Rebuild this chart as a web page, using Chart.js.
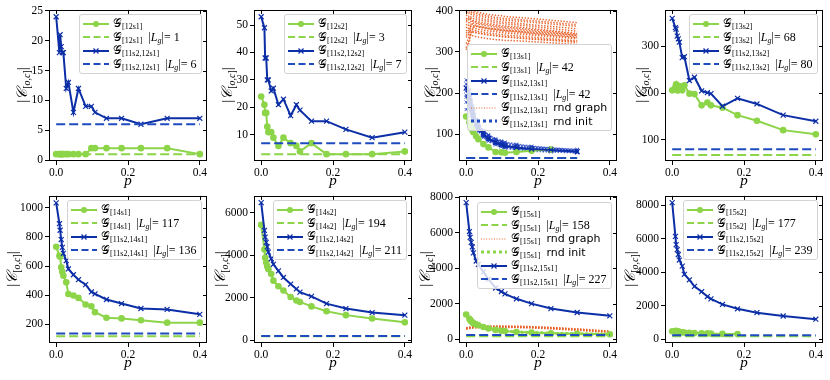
<!DOCTYPE html>
<html>
<head>
<meta charset="utf-8">
<script src="https://cdn.jsdelivr.net/npm/chart.js@4.4.1/dist/chart.umd.min.js"></script>
<style>
  body { margin: 0; width: 830px; height: 380px; background: #fff; position: relative; overflow: hidden; font-family: "Liberation Serif", "DejaVu Serif", serif; }
  canvas { position: absolute; }
  .ytitle { position: absolute; transform: translate(-50%, -50%) rotate(-90deg); font-size: 15px; white-space: nowrap; }
  .ytitle sub { font-size: 10px; vertical-align: -3px; }
  .legend { position: absolute; background: rgba(255,255,255,0.8); border: 1px solid #d3d3d3; border-radius: 3px; padding: 2px 4px 2px 3px; font-size: 12px; }
  .legend .row { display: flex; align-items: center; white-space: nowrap; height: 13.5px; }
  .legend svg { margin-right: 4px; flex: none; }
  sub { font-size: 8px; line-height: 0; vertical-align: -2px; }
  .sans { font-family: "DejaVu Sans", sans-serif; font-size: 11px; margin-left: 6px; }
</style>
</head>
<body>
<script>
// p values shared by all panels
const P = [0, 0.009, 0.011, 0.014, 0.017, 0.02, 0.028, 0.034, 0.048, 0.062, 0.082, 0.098, 0.108, 0.14, 0.182, 0.236, 0.309, 0.4];
const xTicks = [0, 0.2, 0.4];

// 12s1
const g12s1 = [1, 1, 1, 1, 1, 1, 1, 1, 1, 1, 1, 2, 2, 2, 2, 2, 2, 1];
const b12s1 = [24, 18, 21, 19, 18, 18, 12, 13, 8, 12, 9, 9, 8, 7, 7, 6, 7, 7];
const yTicks12s1 = [0, 5, 10, 15, 20, 25];

// 12s2
const g12s2 = [24, 21, 18, 18, 13, 11, 11, 9, 6, 9, 7, 6, 4, 7, 3, 3, 3, 4];
const b12s2 = [53, 49, 38, 38, 30, 30, 26, 27, 21, 23, 17, 21, 19, 15, 15, 12, 9, 11];
const yTicks12s2 = [10, 20, 30, 40, 50];

// 13s1 (runs stop at p = 0.309)
const g13s1 = [143, 129, 125, 115, 110, 105, 95, 88, 76, 68, 57, 56, 55, 57, 60, 63];
const b13s1 = [212, 190, 180, 165, 155, 145, 125, 117, 100, 90, 80, 75, 72, 68, 64, 62, 58];
const rndGraph13s1 = [
  [395, 400, 398, 396, 394, 392, 390, 388, 385, 383, 380, 378, 377, 375, 372, 368, 362],
  [380, 388, 386, 384, 383, 381, 380, 378, 376, 374, 371, 369, 368, 366, 362, 357, 350],
  [365, 372, 375, 373, 371, 370, 369, 367, 365, 363, 360, 358, 357, 355, 351, 347, 340],
  [350, 360, 362, 361, 360, 358, 356, 355, 353, 351, 349, 347, 346, 344, 341, 337, 332],
  [340, 348, 352, 350, 349, 347, 346, 345, 343, 341, 339, 337, 336, 334, 331, 328, 323],
  [320, 338, 342, 341, 340, 338, 337, 336, 334, 332, 330, 329, 328, 327, 325, 322, 318],
  [305, 325, 335, 345, 355, 360, 362, 362, 360, 358, 356, 354, 353, 351, 348, 345, 340],
  [400, 402, 404, 403, 401, 400, 398, 396, 393, 391, 389, 388, 386, 384, 381, 377, 371],
  [372, 380, 382, 380, 378, 376, 375, 373, 371, 369, 366, 364, 363, 361, 357, 352, 345],
  [335, 345, 357, 366, 368, 366, 364, 362, 360, 357, 355, 353, 352, 350, 346, 342, 336],
  [388, 395, 393, 391, 389, 387, 385, 383, 380, 378, 375, 373, 372, 370, 366, 362, 356],
  [358, 366, 368, 367, 365, 363, 362, 360, 358, 356, 353, 351, 350, 348, 344, 340, 334],
  [345, 355, 358, 356, 354, 353, 351, 350, 348, 346, 344, 342, 341, 339, 336, 332, 327],
  [310, 330, 340, 348, 350, 349, 348, 346, 344, 342, 340, 338, 337, 335, 332, 329, 325],
  [398, 404, 402, 400, 398, 396, 394, 392, 389, 387, 384, 382, 381, 379, 376, 372, 366],
  [376, 384, 379, 377, 375, 374, 372, 370, 368, 366, 363, 361, 360, 358, 354, 350, 343]
];
const rndInit13s1 = [
  [232, 205, 190, 175, 163, 153, 135, 124, 108, 97, 87, 82, 79, 74, 70, 66, 62],
  [195, 180, 172, 160, 150, 140, 122, 114, 97, 88, 78, 73, 70, 66, 62, 60, 57],
  [222, 208, 194, 180, 167, 156, 137, 126, 109, 99, 89, 84, 81, 76, 71, 67, 63],
  [178, 168, 158, 148, 140, 132, 115, 107, 92, 83, 74, 69, 66, 62, 59, 57, 55],
  [205, 185, 178, 168, 158, 147, 128, 118, 101, 92, 82, 77, 74, 69, 66, 63, 59],
  [160, 165, 156, 146, 138, 130, 117, 109, 95, 86, 77, 73, 70, 66, 63, 60, 56],
  [215, 198, 186, 176, 165, 154, 134, 123, 105, 95, 85, 80, 77, 72, 68, 65, 61],
  [190, 178, 168, 156, 147, 138, 121, 113, 96, 87, 77, 72, 69, 65, 62, 60, 57]
];
const yTicks13s1 = [100, 200, 300, 400];

// 13s2
const g13s2 = [206, 213, 219, 206, 206, 215, 206, 217, 199, 198, 174, 180, 174, 169, 153, 141, 121, 112];
const b13s2 = [360, 340, 337, 322, 316, 309, 276, 278, 227, 234, 205, 201, 199, 172, 189, 177, 153, 140];
const yTicks13s2 = [100, 200, 300];

// 14s1
const g14s1 = [732, 671, 664, 592, 560, 533, 488, 408, 397, 381, 336, 324, 283, 245, 240, 227, 211, 211];
const b14s1 = [1034, 891, 846, 782, 728, 687, 637, 580, 540, 506, 472, 422, 408, 370, 342, 308, 302, 268];
const yTicks14s1 = [200, 400, 600, 800, 1000];

// 14s2
const g14s2 = [5430, 4270, 3890, 3660, 3470, 3350, 3120, 2810, 2550, 2350, 2040, 1880, 1810, 1600, 1370, 1190, 1030, 850];
const b14s2 = [6480, 5170, 4860, 4610, 4400, 4150, 3840, 3580, 3270, 2960, 2650, 2420, 2270, 2070, 1730, 1500, 1310, 1190];
const yTicks14s2 = [0, 2000, 4000, 6000];

// 15s1
const g15s1 = [1390, 1150, 1080, 1000, 950, 900, 830, 780, 680, 600, 520, 470, 450, 400, 370, 330, 300, 275];
const b15s1 = [7690, 6060, 5730, 5450, 5190, 4860, 4400, 4210, 3790, 3380, 2880, 2680, 2550, 2270, 2000, 1720, 1500, 1310];
const rndGraph15s1 = [
  [620, 650, 660, 670, 680, 690, 700, 705, 710, 715, 720, 718, 716, 710, 690, 640, 560, 430],
  [580, 610, 620, 630, 640, 650, 660, 665, 670, 675, 680, 678, 675, 670, 650, 600, 520, 400],
  [600, 630, 640, 650, 660, 668, 675, 680, 690, 695, 700, 698, 696, 690, 670, 620, 540, 420],
  [560, 590, 600, 610, 620, 628, 635, 640, 650, 655, 660, 658, 655, 650, 630, 580, 500, 380],
  [640, 670, 680, 690, 700, 708, 715, 720, 730, 735, 740, 738, 735, 728, 705, 655, 575, 450]
];
const rndInit15s1 = [
  [1450, 1200, 1110, 1040, 980, 930, 860, 800, 700, 620, 540, 490, 465, 415, 380, 340, 310, 285],
  [1350, 1120, 1050, 980, 930, 880, 810, 760, 665, 590, 510, 460, 440, 395, 360, 325, 295, 270],
  [1400, 1170, 1090, 1020, 960, 915, 845, 790, 690, 610, 530, 480, 455, 405, 372, 333, 302, 278]
];
const yTicks15s1 = [0, 2000, 4000, 6000, 8000];

// 15s2 (green run stops at p = 0.182)
const g15s2 = [480, 470, 500, 470, 460, 440, 420, 400, 380, 370, 360, 350, 340, 320, 310];
const b15s2 = [8160, 6140, 5650, 5350, 5060, 4730, 4370, 3880, 3550, 3160, 2840, 2550, 2410, 2080, 1820, 1590, 1390, 1200];
const yTicks15s2 = [0, 2000, 4000, 6000, 8000];

const G = '#8cd448', B = '#0c2ea6', BD = '#1e4bbf', O = '#e8622a';

const styles = {
  gLine: { borderColor: G, backgroundColor: G, borderWidth: 2, pointStyle: 'circle', pointRadius: 3.3, pointBorderWidth: 0, order: 4 },
  bLine: { borderColor: B, backgroundColor: B, borderWidth: 2, pointStyle: 'crossRot', pointRadius: 3.5, pointBorderWidth: 1.2, order: 2 },
  gDash: { borderColor: G, borderWidth: 2, borderDash: [9, 4], pointRadius: 0, order: 3 },
  bDash: { borderColor: BD, borderWidth: 2, borderDash: [9, 4], pointRadius: 0, order: 1 },
  oDot: { borderColor: 'rgba(232,98,42,0.95)', borderWidth: 1.5, borderDash: [1.4, 1.6], pointRadius: 0, order: 6 },
  bDot: { borderColor: 'rgba(22,55,190,0.75)', backgroundColor: 'rgba(22,55,190,0.75)', borderWidth: 1.6, borderDash: [1.6, 1.4], pointStyle: 'crossRot', pointRadius: 2.3, pointBorderWidth: 1, order: 5 },
  gDot: { borderColor: 'rgba(140,212,72,0.85)', borderWidth: 2.5, borderDash: [2.5, 2.5], pointRadius: 0, order: 5 }
};

const gl = s => `\u{1D4A2}<sub>[${s}]</sub>`;
const lg = n => `&nbsp;&nbsp;|<i>L<sub>g</sub></i>|= ${n}`;
const sans = t => `<span class="sans">${t}</span>`;

// axes boxes
const colLeft = [49, 254, 459, 665];
const rowTop = [9, 195];
const rowH = [152, 148];
const AXW = 158;

const panels = [
  { col: 0, row: 0, y: [-0.15, 25.15], yTicks: yTicks12s1, yOff: 27,
    series: [[g12s1, 'gLine'], [b12s1, 'bLine']], flat: [[1, 'gDash', 18], [6, 'bDash', 18]],
    legend: [['gLine', gl('12s1')], ['gDash', gl('12s1') + lg(1)], ['bLine', gl('11s2,12s1')], ['bDash', gl('11s2,12s1') + lg(6)]] },
  { col: 1, row: 0, y: [0.5, 55.5], yTicks: yTicks12s2, yOff: 27,
    series: [[g12s2, 'gLine'], [b12s2, 'bLine']], flat: [[3, 'gDash', 18], [7, 'bDash', 18]],
    legend: [['gLine', gl('12s2')], ['gDash', gl('12s2') + lg(3)], ['bLine', gl('11s2,12s2')], ['bDash', gl('11s2,12s2') + lg(7)]] },
  { col: 2, row: 0, y: [35, 402], yTicks: yTicks13s1, yOff: 29, legendTop: 35,
    series: [[g13s1, 'gLine'], [b13s1, 'bLine']].concat(rndGraph13s1.map(r => [r, 'oDot']), rndInit13s1.map(r => [r, 'bDot'])),
    flat: [[42, 'gDash', 17], [42, 'bDash', 17]],
    legend: [['gLine', gl('13s1')], ['gDash', gl('13s1') + lg(42)], ['bLine', gl('11s2,13s1')], ['bDash', gl('11s2,13s1') + lg(42)],
             ['oDot', gl('11s2,13s1') + sans('rnd graph')], ['bDotL', gl('11s2,13s1') + sans('rnd init')]] },
  { col: 3, row: 0, y: [55, 378], yTicks: yTicks13s2, yOff: 24,
    series: [[g13s2, 'gLine'], [b13s2, 'bLine']], flat: [[68, 'gDash', 18], [80, 'bDash', 18]],
    legend: [['gLine', gl('13s2')], ['gDash', gl('13s2') + lg(68)], ['bLine', gl('11s2,13s2')], ['bDash', gl('11s2,13s2') + lg(80)]] },
  { col: 0, row: 1, y: [71, 1082], yTicks: yTicks14s1, yOff: 37,
    series: [[g14s1, 'gLine'], [b14s1, 'bLine']], flat: [[117, 'gDash', 18], [136, 'bDash', 18]],
    legend: [['gLine', gl('14s1')], ['gDash', gl('14s1') + lg(117)], ['bLine', gl('11s2,14s1')], ['bDash', gl('11s2,14s1') + lg(136)]] },
  { col: 1, row: 1, y: [-120, 6794], yTicks: yTicks14s2, yOff: 34,
    series: [[g14s2, 'gLine'], [b14s2, 'bLine']], flat: [[194, 'gDash', 18], [211, 'bDash', 18]],
    legend: [['gLine', gl('14s2')], ['gDash', gl('14s2') + lg(194)], ['bLine', gl('11s2,14s2')], ['bDash', gl('11s2,14s2') + lg(211)]] },
  { col: 2, row: 1, y: [-219, 8067], yTicks: yTicks15s1, yOff: 34, legendTop: 7,
    series: [[g15s1, 'gLine'], [b15s1, 'bLine']].concat(rndGraph15s1.map(r => [r, 'oDot']), rndInit15s1.map(r => [r, 'gDot'])),
    flat: [[158, 'gDash', 18], [227, 'bDash', 18]],
    legend: [['gLine', gl('15s1')], ['gDash', gl('15s1') + lg(158)], ['oDot', gl('15s1') + sans('rnd graph')], ['gDotL', gl('15s1') + sans('rnd init')],
             ['bLine', gl('11s2,15s1')], ['bDash', gl('11s2,15s1') + lg(227)]] },
  { col: 3, row: 1, y: [-222, 8559], yTicks: yTicks15s2, yOff: 35,
    series: [[g15s2, 'gLine'], [b15s2, 'bLine']], flat: [[177, 'gDash', 18], [239, 'bDash', 18]],
    legend: [['gLine', gl('15s2')], ['gDash', gl('15s2') + lg(177)], ['bLine', gl('11s2,15s2')], ['bDash', gl('11s2,15s2') + lg(239)]] }
];

function sample(kind) {
  const s = '<svg width="26" height="10">';
  const ln = (c, w, dash) => `<line x1="0" y1="5" x2="26" y2="5" stroke="${c}" stroke-width="${w}"${dash ? ` stroke-dasharray="${dash}"` : ''}/>`;
  let body = '';
  if (kind === 'gLine') body = ln(G, 2) + `<circle cx="13" cy="5" r="3" fill="${G}"/>`;
  if (kind === 'bLine') body = ln(B, 2) + `<path d="M10.5 2.5L15.5 7.5M15.5 2.5L10.5 7.5" stroke="${B}" stroke-width="1.2"/>`;
  if (kind === 'gDash') body = ln(G, 2, '7,3.5');
  if (kind === 'bDash') body = ln(BD, 2, '7,3.5');
  if (kind === 'oDot') body = ln(O, 1, '1,1.6');
  if (kind === 'bDotL') body = ln(BD, 3, '3,3');
  if (kind === 'gDotL') body = ln(G, 3, '3,3');
  return s + body + '</svg>';
}

const frame = {
  id: 'frame',
  afterDraw(chart) {
    const { ctx, chartArea: a, scales } = chart;
    ctx.save();
    ctx.strokeStyle = '#000';
    ctx.lineWidth = 1;
    ctx.strokeRect(Math.round(a.left) + 0.5, Math.round(a.top) + 0.5, Math.round(a.width) - 1, Math.round(a.height) - 1);
    ctx.beginPath();
    scales.y.ticks.forEach(t => {
      const y = Math.round(scales.y.getPixelForValue(t.value)) + 0.5;
      ctx.moveTo(a.right - 4, y); ctx.lineTo(a.right, y);
    });
    scales.x.ticks.forEach(t => {
      const x = Math.round(scales.x.getPixelForValue(t.value)) + 0.5;
      ctx.moveTo(x, a.top); ctx.lineTo(x, a.top + 4);
    });
    ctx.stroke();
    ctx.restore();
  }
};

const tickFont = { family: '"Liberation Serif", serif', size: 11.5 };

panels.forEach(pn => {
  const axL = colLeft[pn.col], axT = rowTop[pn.row], axH = rowH[pn.row];
  const canvas = document.createElement('canvas');
  const cw = 49 + AXW + 10, ch = 8 + axH + 29 + 2;
  canvas.width = cw; canvas.height = ch;
  canvas.style.left = (axL - 49) + 'px';
  canvas.style.top = (axT - 8) + 'px';
  document.body.appendChild(canvas);

  const datasets = [];
  pn.series.forEach(([vals, st]) => {
    datasets.push(Object.assign({ data: vals.map((v, i) => ({ x: P[i], y: v })), fill: false, tension: 0 }, styles[st]));
  });
  pn.flat.forEach(([v, st, n]) => {
    datasets.push(Object.assign({ data: P.slice(0, n).map(x => ({ x, y: v })), fill: false }, styles[st]));
  });

  new Chart(canvas, {
    type: 'line',
    data: { datasets },
    options: {
      responsive: false,
      animation: false,
      devicePixelRatio: 1,
      layout: { padding: { top: 8, right: 10, bottom: 2, left: 0 } },
      plugins: { legend: { display: false }, tooltip: { enabled: false } },
      scales: {
        x: {
          type: 'linear', min: -0.02, max: 0.42,
          afterBuildTicks: s => { s.ticks = xTicks.map(v => ({ value: v })); },
          afterFit: s => { s.height = 29; },
          ticks: { font: tickFont, color: '#000', padding: 1, callback: v => v.toFixed(1) },
          grid: { drawOnChartArea: false, tickLength: 4, color: '#000' },
          border: { display: false },
          title: { display: true, text: 'p', font: { family: '"Liberation Serif", serif', size: 15, style: 'italic' }, color: '#000', padding: { top: 0, bottom: 0 } }
        },
        y: {
          type: 'linear', min: pn.y[0], max: pn.y[1],
          afterBuildTicks: s => { s.ticks = pn.yTicks.map(v => ({ value: v })); },
          afterFit: s => { s.width = 49; },
          ticks: { font: tickFont, color: '#000', padding: 2, callback: v => String(v) },
          grid: { drawOnChartArea: false, tickLength: 4, color: '#000' },
          border: { display: false }
        }
      }
    },
    plugins: [frame]
  });

  const yt = document.createElement('div');
  yt.className = 'ytitle';
  yt.innerHTML = '|<i>\u{1D49E}</i><sub>[<i>o</i>,<i>c</i>]</sub>|';
  yt.style.left = (axL - pn.yOff) + 'px';
  yt.style.top = (axT + axH / 2) + 'px';
  document.body.appendChild(yt);

  const lgd = document.createElement('div');
  lgd.className = 'legend';
  lgd.innerHTML = pn.legend.map(([k, t]) => `<div class="row">${sample(k)}<span>${t}</span></div>`).join('');
  document.body.appendChild(lgd);
  lgd.style.left = (axL + AXW - 5 - lgd.offsetWidth) + 'px';
  lgd.style.top = (axT + (pn.legendTop || 5)) + 'px';
});
</script>
</body>
</html>
